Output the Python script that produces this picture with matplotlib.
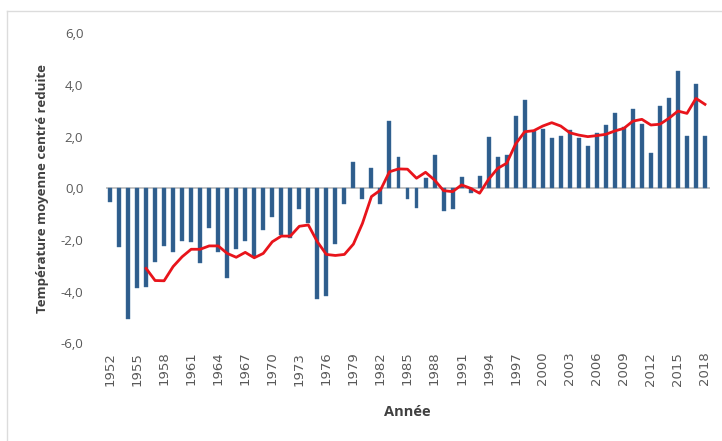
import matplotlib
matplotlib.use("Agg")
import matplotlib.pyplot as plt
from matplotlib.lines import Line2D

years = list(range(1952, 2019))
anomalies = [
    -0.53, -2.27, -5.05, -3.87, -3.82, -2.87, -2.23, -2.48, -2.04, -2.08,
    -2.90, -1.55, -2.48, -3.47, -2.36, -2.04, -2.66, -1.63, -1.11, -1.82,
    -1.94, -0.79, -1.36, -4.30, -4.18, -2.17, -0.60, 1.02, -0.43, 0.80,
    -0.60, 2.62, 1.20, -0.43, -0.77, 0.40, 1.27, -0.86, -0.82, 0.42,
    -0.20, 0.46, 2.00, 1.20, 1.27, 2.81, 3.42, 2.22, 2.30, 1.94,
    2.03, 2.26, 1.94, 1.65, 2.16, 2.45, 2.90, 2.39, 3.06, 2.49,
    1.38, 3.19, 3.49, 4.56, 2.03, 4.04, 2.03,
]
trend_years = list(range(1956, 2019))
trend = [
    -3.10, -3.57, -3.58, -3.03, -2.65, -2.36, -2.36, -2.23, -2.23, -2.52,
    -2.67, -2.48, -2.69, -2.52, -2.07, -1.85, -1.85, -1.47, -1.42, -2.07,
    -2.56, -2.60, -2.56, -2.16, -1.36, -0.32, -0.07, 0.64, 0.75, 0.74,
    0.39, 0.62, 0.32, -0.09, -0.13, 0.13, 0.00, -0.19, 0.35, 0.77,
    0.97, 1.72, 2.19, 2.23, 2.41, 2.54, 2.41, 2.15, 2.06, 2.00,
    2.04, 2.09, 2.22, 2.32, 2.60, 2.67, 2.45, 2.48, 2.71, 2.99,
    2.90, 3.48, 3.25,
]
tick_years = list(range(1952, 2019, 3))
y_ticks = [-6, -4, -2, 0, 2, 4, 6]
y_ticklabels = ["-6,0", "-4,0", "-2,0", "0,0", "2,0", "4,0", "6,0"]

W, H = 722, 441
fig = plt.figure(figsize=(W / 100, H / 100), dpi=100)
fig.patch.set_facecolor("white")

# light frame
fig.add_artist(Line2D([7 / W, 7 / W], [0, 1 - 11 / H], color="#dcdcdc", lw=1.0))
fig.add_artist(Line2D([7 / W, 1], [1 - 11 / H, 1 - 11 / H], color="#dcdcdc", lw=1.0))

left, right = 105.5, 709.5
top, bottom = 33.3, 343.3
ax = fig.add_axes([left / W, 1 - bottom / H, (right - left) / W, (bottom - top) / H])

ax.bar(years, anomalies, width=0.44, color="#2e5d8c", edgecolor="#3e6f9f", linewidth=0.3, zorder=2)
ax.axhline(0, color="#bfbfbf", lw=1.3, zorder=1)
ax.plot(trend_years, trend, color="#e8141b", lw=2.0, zorder=3)

ax.set_xlim(1951.5, 2018.5)
ax.set_ylim(-6, 6)
for s in ax.spines.values():
    s.set_visible(False)

ax.set_xticks(tick_years)
ax.set_xticklabels([str(y) for y in tick_years], rotation=90, fontsize=9.5, color="#595959",
                   family="DejaVu Sans")
ax.set_yticks(y_ticks)
ax.set_yticklabels(y_ticklabels, fontsize=9.5, color="#595959", family="Open Sans")
ax.tick_params(axis="both", length=0)
ax.tick_params(axis="x", pad=6)
ax.tick_params(axis="y", pad=16)

ax.set_xlabel("Année", fontsize=10.5, fontweight="bold", color="#404040", family="Open Sans", labelpad=14)
ax.set_ylabel("Température moyenne centré reduite", fontsize=9.5, fontweight="bold",
              color="#404040", family="Open Sans", labelpad=8)

fig.savefig("out.png", dpi=100, facecolor="white")
